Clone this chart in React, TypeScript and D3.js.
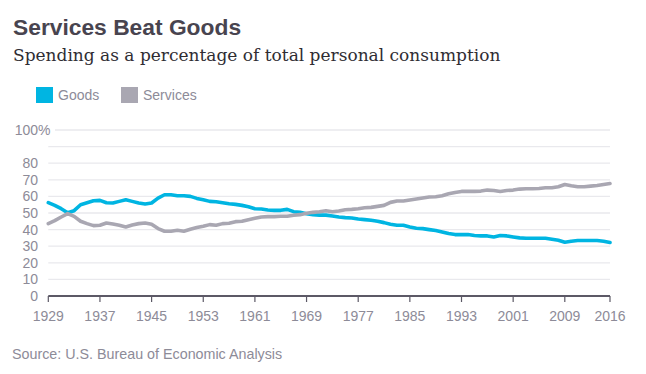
import { useEffect } from 'react';
import * as d3 from 'd3';

// yearly share of total personal consumption, in %
const years = d3.range(1929, 2017);
const goods = [
  56.2, 54.6, 52.6, 50.2, 51.4, 55, 56.2, 57.4, 57.6, 56.2,
  56, 57, 58, 57, 56, 55.4, 56, 59, 61, 61,
  60.4, 60.4, 60, 58.8, 58, 57, 56.8, 56.2, 55.6, 55.2,
  54.6, 53.8, 52.6, 52.4, 51.8, 51.6, 51.6, 52.2, 50.8, 50.4,
  49.6, 49, 48.7, 48.7, 48.2, 47.6, 47.2, 47, 46.4, 46,
  45.6, 45, 44.2, 43.2, 42.6, 42.6, 41.6, 40.8, 40.6, 40,
  39.4, 38.6, 37.6, 37, 37, 37, 36.4, 36.2, 36.2, 35.6,
  36.4, 36.2, 35.6, 35, 34.8, 34.8, 34.8, 34.8, 34.2, 33.6,
  32.4, 33, 33.4, 33.4, 33.4, 33.4, 33, 32.2,
];
const services = [
  43.6, 45.4, 47.6, 49.6, 48, 45, 43.6, 42.4, 42.6, 44,
  43.4, 42.6, 41.6, 42.8, 43.6, 44, 43.2, 40.6, 39, 39,
  39.6, 39, 40.2, 41.2, 42, 43, 42.6, 43.6, 43.8, 44.8,
  45, 46, 46.8, 47.6, 47.8, 47.8, 48, 48, 48.6, 49,
  49.8, 50.4, 50.8, 51.4, 50.8, 51.2, 52, 52.2, 52.6, 53.2,
  53.4, 54, 54.6, 56.4, 57.2, 57.2, 57.8, 58.4, 59, 59.6,
  59.8, 60.4, 61.6, 62.4, 63, 63, 63, 63.2, 63.8, 63.6,
  63, 63.6, 63.8, 64.4, 64.6, 64.6, 64.8, 65.2, 65.2, 65.8,
  67.2, 66.4, 65.8, 65.8, 66.2, 66.6, 67.2, 67.8,
];
const xTicks = [1929, 1937, 1945, 1953, 1961, 1969, 1977, 1985, 1993, 2001, 2009, 2016];
const yTicks = [0, 10, 20, 30, 40, 50, 60, 70, 80];
const gridValues = [10, 20, 30, 40, 50, 60, 70, 80, 90, 100];
const seriesNames = ['Goods', 'Services'];

const colors = ['#00b5e2', '#a9a7b2'];
const sans = '"Liberation Sans", Arial, sans-serif';
const textGray = '#8d8b98';

export default function App() {
  useEffect(() => {
    document.body.style.margin = '0';
  }, []);

  const width = 646;
  const height = 374;
  const x = d3.scaleLinear().domain([1929, 2016]).range([48.3, 610]);
  const y = d3.scaleLinear().domain([0, 100]).range([296, 130]);

  const line = d3.line<number>()
    .x((_, i) => x(years[i]))
    .y(d => y(d));

  const series = [goods, services];

  return (
    <svg width={width} height={height} style={{ display: 'block', background: '#fff' }}>
      <text x={13} y={35} fontFamily={sans} fontWeight={700} fontSize={22.8} fill="#48444f">
        Services Beat Goods
      </text>
      <text x={13} y={61} fontFamily='"DejaVu Serif", serif' fontSize={17} fill="#2f2d33">
        Spending as a percentage of total personal consumption
      </text>

      {/* legend */}
      {seriesNames.map((name, i) => {
        const lx = i === 0 ? 36 : 121;
        return (
          <g key={name}>
            <rect x={lx} y={87} width={17} height={16} fill={colors[i]} />
            <text x={lx + 22} y={100} fontFamily={sans} fontSize={14} fill={textGray}>{name}</text>
          </g>
        );
      })}

      {/* grid */}
      {gridValues.map(v => (
        <line key={v} x1={v === 100 ? 55 : x(1929)} x2={x(2016)} y1={y(v)} y2={y(v)}
          stroke="#e9e9ed" strokeWidth={1.3} />
      ))}

      {/* y labels */}
      {yTicks.map(v => (
        <text key={v} x={38} y={y(v)} dy="0.35em" textAnchor="end" fontFamily={sans} fontSize={14} fill={textGray}>{v}</text>
      ))}
      <text x={38} y={y(100)} dy="0.35em" textAnchor="end" fontFamily={sans} fontSize={14} fill={textGray}>100</text>
      <text x={38} y={y(100)} dy="0.35em" fontFamily={sans} fontSize={14} fill={textGray}>%</text>

      {/* lines */}
      {series.map((s, i) => (
        <path key={i} d={line(s) || ''} fill="none" stroke={colors[i]} strokeWidth={3.6}
          strokeLinejoin="round" strokeLinecap="round" />
      ))}

      {/* x axis */}
      <line x1={x(1929)} x2={x(2016)} y1={y(0)} y2={y(0)} stroke="#5c5966" strokeWidth={2} />
      {xTicks.map(t => (
        <g key={t}>
          <line x1={x(t)} x2={x(t)} y1={y(0)} y2={y(0) + 6} stroke="#5c5966" strokeWidth={1.2} />
          <text x={x(t)} y={321} textAnchor="middle" fontFamily={sans} fontSize={14} fill={textGray}>{t}</text>
        </g>
      ))}

      <text x={12} y={359} fontFamily={sans} fontSize={14.3} fill={textGray}>
        Source: U.S. Bureau of Economic Analysis
      </text>
    </svg>
  );
}
